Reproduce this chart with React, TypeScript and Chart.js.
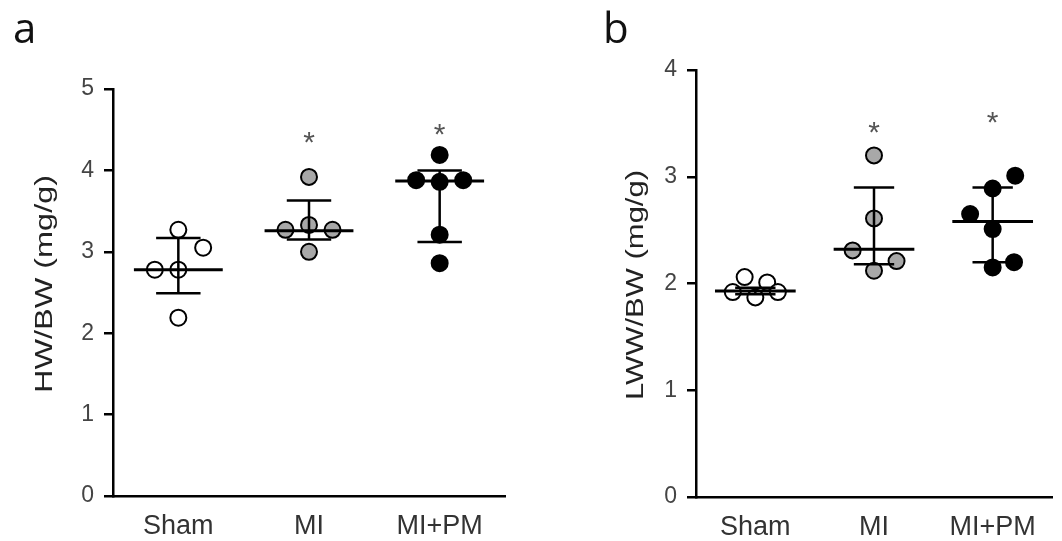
import React, { useEffect, useRef } from "react";
import { Chart, registerables } from "chart.js";

Chart.register(...registerables);

const categories = ["Sham", "MI", "MI+PM"];

// Panel a: HW/BW (mg/g)
const hwTicks = [0, 1, 2, 3, 4, 5];
const hwShamValues = [3.27, 3.05, 2.78, 2.78, 2.19];
const hwShamJitter = [0, 0.19, -0.18, 0, 0];
const hwMiValues = [3.92, 3.27, 3.33, 3.27, 3.0];
const hwMiJitter = [0, -0.18, 0, 0.18, 0];
const hwMiPmValues = [4.19, 3.88, 3.86, 3.88, 3.21, 2.86];
const hwMiPmJitter = [0, -0.18, 0, 0.18, 0, 0];
const hwMeans = [2.78, 3.26, 3.87];
const hwUpper = [3.17, 3.63, 4.0];
const hwLower = [2.49, 3.15, 3.12];
const hwStars: (number | null)[] = [null, 4.46, 4.56];

// Panel b: LWW/BW (mg/g)
const lwTicks = [0, 1, 2, 3, 4];
const lwShamValues = [1.92, 2.06, 1.87, 2.01, 1.92];
const lwShamJitter = [-0.19, -0.09, 0, 0.1, 0.19];
const lwMiValues = [3.2, 2.61, 2.31, 2.21, 2.12];
const lwMiJitter = [0, 0, -0.18, 0.19, 0];
const lwMiPmValues = [3.01, 2.89, 2.65, 2.51, 2.15, 2.2];
const lwMiPmJitter = [0.19, 0, -0.19, 0, 0, 0.18];
const lwMeans = [1.93, 2.32, 2.58];
const lwUpper = [1.96, 2.9, 2.9];
const lwLower = [1.9, 2.18, 2.2];
const lwStars: (number | null)[] = [null, 3.5, 3.6];

const groupFill = ["#ffffff", "#a8a8a8", "#000000"];
const SANS = "'Liberation Sans', Arial, sans-serif";

const summaryPlugin = {
  id: "summary",
  afterDatasetsDraw(chart: any, _args: any, opts: any) {
    const { ctx } = chart;
    const xs = chart.scales.x;
    const ys = chart.scales.y;
    ctx.save();
    ctx.strokeStyle = "#000";
    ctx.lineCap = "butt";
    const seg = (x1: number, y1: number, x2: number, y2: number) => {
      ctx.beginPath();
      ctx.moveTo(x1, y1);
      ctx.lineTo(x2, y2);
      ctx.stroke();
    };
    opts.means.forEach((m: number, i: number) => {
      const c = i + 1;
      const cx = xs.getPixelForValue(c);
      const ym = ys.getPixelForValue(m);
      const yu = ys.getPixelForValue(opts.upper[i]);
      const yl = ys.getPixelForValue(opts.lower[i]);
      ctx.lineWidth = 2.5;
      seg(cx, yu, cx, yl);
      const cl = xs.getPixelForValue(c - opts.capHalf);
      const cr = xs.getPixelForValue(c + opts.capHalf);
      seg(cl, yu, cr, yu);
      seg(cl, yl, cr, yl);
      ctx.lineWidth = 3;
      seg(xs.getPixelForValue(c - opts.meanHalf), ym, xs.getPixelForValue(c + opts.meanHalf), ym);
    });
    ctx.fillStyle = "#555";
    ctx.font = `30px ${SANS}`;
    ctx.textAlign = "center";
    ctx.textBaseline = "alphabetic";
    opts.stars.forEach((s: number | null, i: number) => {
      if (s == null) return;
      ctx.fillText("*", xs.getPixelForValue(i + 1), ys.getPixelForValue(s) + 19);
    });
    ctx.restore();
  },
};

const yTitlePlugin = {
  id: "yTitle",
  afterDraw(chart: any, _args: any, opts: any) {
    const { ctx } = chart;
    ctx.save();
    ctx.font = `23px ${SANS}`;
    ctx.fillStyle = "#222";
    ctx.textAlign = "center";
    ctx.textBaseline = "middle";
    const w = ctx.measureText(opts.text).width;
    ctx.translate(opts.x, opts.y);
    ctx.rotate(-Math.PI / 2);
    ctx.scale(opts.length / w, 1);
    ctx.fillText(opts.text, 0, 0);
    ctx.restore();
  },
};

type PanelCfg = {
  left: number;
  width: number;
  padTop: number;
  padRight: number;
  yWidth: number;
  xHeight: number;
  ticks: number[];
  groups: { values: number[]; jitter: number[] }[];
  means: number[];
  upper: number[];
  lower: number[];
  stars: (number | null)[];
  title: string;
  titleX: number;
  titleY: number;
  titleLen: number;
};

function Panel({ cfg }: { cfg: PanelCfg }) {
  const ref = useRef<HTMLCanvasElement>(null);
  useEffect(() => {
    const datasets = cfg.groups.map((g, gi) => ({
      label: categories[gi],
      data: g.values.map((v, k) => ({ x: gi + 1 + g.jitter[k], y: v })),
      pointRadius: 8,
      pointBorderWidth: 2,
      pointBackgroundColor: groupFill[gi],
      pointBorderColor: "#000",
      showLine: false,
    }));
    const chart = new Chart(ref.current as HTMLCanvasElement, {
      type: "scatter",
      data: { datasets },
      plugins: [summaryPlugin, yTitlePlugin],
      options: {
        animation: false,
        responsive: false,
        events: [],
        layout: { padding: { top: cfg.padTop, right: cfg.padRight, left: 0, bottom: 0 } },
        plugins: {
          legend: { display: false },
          tooltip: { enabled: false },
          summary: {
            means: cfg.means,
            upper: cfg.upper,
            lower: cfg.lower,
            stars: cfg.stars,
            meanHalf: 0.34,
            capHalf: 0.17,
          },
          yTitle: { text: cfg.title, x: cfg.titleX, y: cfg.titleY, length: cfg.titleLen },
        } as any,
        scales: {
          x: {
            type: "linear",
            min: 0.5,
            max: 3.5,
            afterBuildTicks: (s: any) => {
              s.ticks = categories.map((_, i) => ({ value: i + 1 }));
            },
            afterFit: (s: any) => {
              s.height = cfg.xHeight;
            },
            grid: { display: false, drawTicks: false },
            border: { display: true, color: "#000", width: 2.5 },
            ticks: {
              autoSkip: false,
              maxRotation: 0,
              padding: 14,
              color: "#333",
              font: { family: SANS, size: 27 },
              callback: (v: any) => categories[Math.round(Number(v)) - 1] ?? "",
            },
          },
          y: {
            type: "linear",
            min: cfg.ticks[0],
            max: cfg.ticks[cfg.ticks.length - 1],
            afterBuildTicks: (s: any) => {
              s.ticks = cfg.ticks.map((v) => ({ value: v }));
            },
            afterFit: (s: any) => {
              s.width = cfg.yWidth;
            },
            grid: {
              display: true,
              drawOnChartArea: false,
              drawTicks: true,
              tickLength: 9,
              color: "#000",
              lineWidth: 2.5,
            },
            border: { display: true, color: "#000", width: 2.5 },
            ticks: {
              padding: 10,
              color: "#444",
              font: { family: SANS, size: 23 },
            },
          },
        },
      } as any,
    });
    return () => chart.destroy();
  }, []);
  return (
    <canvas
      ref={ref}
      width={cfg.width}
      height={541}
      style={{ position: "absolute", left: cfg.left, top: 0, width: cfg.width, height: 541 }}
    />
  );
}

const panelA: PanelCfg = {
  left: 0,
  width: 520,
  padTop: 89,
  padRight: 15,
  yWidth: 113,
  xHeight: 45,
  ticks: hwTicks,
  groups: [
    { values: hwShamValues, jitter: hwShamJitter },
    { values: hwMiValues, jitter: hwMiJitter },
    { values: hwMiPmValues, jitter: hwMiPmJitter },
  ],
  means: hwMeans,
  upper: hwUpper,
  lower: hwLower,
  stars: hwStars,
  title: "HW/BW (mg/g)",
  titleX: 46,
  titleY: 284,
  titleLen: 218,
};

const panelB: PanelCfg = {
  left: 560,
  width: 502,
  padTop: 70,
  padRight: 2,
  yWidth: 136,
  xHeight: 44,
  ticks: lwTicks,
  groups: [
    { values: lwShamValues, jitter: lwShamJitter },
    { values: lwMiValues, jitter: lwMiJitter },
    { values: lwMiPmValues, jitter: lwMiPmJitter },
  ],
  means: lwMeans,
  upper: lwUpper,
  lower: lwLower,
  stars: lwStars,
  title: "LWW/BW (mg/g)",
  titleX: 77,
  titleY: 285,
  titleLen: 230,
};

const letterStyle: React.CSSProperties = {
  position: "absolute",
  top: 7,
  fontFamily: "'Open Sans', 'DejaVu Sans', sans-serif",
  fontSize: 42,
  lineHeight: "40px",
  color: "#111",
};

export default function App() {
  return (
    <div
      style={{
        position: "fixed",
        left: 0,
        top: 0,
        width: 1062,
        height: 541,
        background: "#fff",
        overflow: "hidden",
      }}
    >
      <Panel cfg={panelA} />
      <Panel cfg={panelB} />
      <div style={{ ...letterStyle, left: 13 }}>a</div>
      <div style={{ ...letterStyle, left: 603 }}>b</div>
    </div>
  );
}
